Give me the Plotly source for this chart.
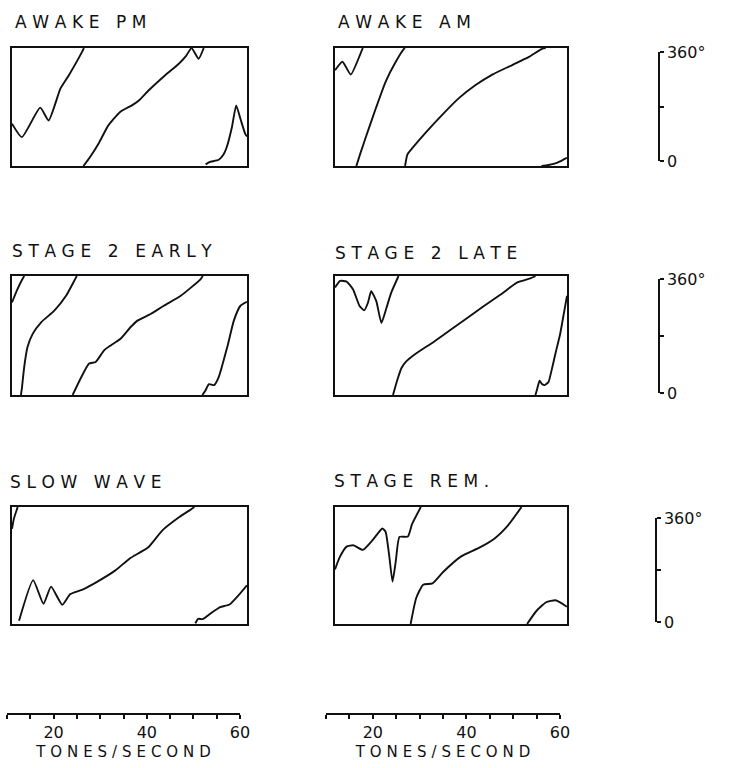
import plotly.graph_objects as go

# ---------------------------------------------------------------------------
# Phase (degrees, wrapped into 0-360) against click rate (tones/second).
# Each list holds the wrapped branches of one curve; None breaks the line
# where the phase wraps from 360 back to 0.
# ---------------------------------------------------------------------------
AWAKE_PM_TONES = [10, 12.1, 16.0, 17.8, 20.3, 22.1, 24.9, 25.3, None,
                  25.2, 26.5, 28.4, 30.5, 33.0, 35.5, 37.0, 39.1, 42.6, 45.5, 47.0, 48.2, 49.7, 50.8, None,
                  51.2, 52.0, 54.0, 55.0, 55.7, 56.8, 57.7, 58.6, 59.6, 60]
AWAKE_PM_PHASE = [129, 88, 178, 139, 236, 277, 348, 360, None,
                  0, 25, 68, 124, 165, 185, 200, 231, 277, 312, 335, 360, 327, 360, None,
                  5, 12, 19, 35, 58, 119, 185, 144, 99, 90]

AWAKE_AM_TONES = [10, 11.6, 13.4, 15.5, 16.0, None,
                  14.6, 15.5, 16.6, 18.8, 20.9, 23.1, 24.9, 25.1, None,
                  25.1, 25.6, 26.7, 29.5, 33.1, 36.7, 40.3, 43.9, 48.2, 51.8, 54.7, 55.4, None,
                  54.5, 56.0, 57.5, 58.5, 59.3, 60]
AWAKE_AM_PHASE = [292, 318, 279, 343, 360, None,
                  0, 40, 86, 176, 257, 318, 358, 360, None,
                  0, 35, 55, 101, 156, 207, 247, 279, 308, 333, 358, 360, None,
                  0, 3, 8, 14, 20, 25]

STAGE2_EARLY_TONES = [10, 11.0, 12.0, 12.6, None,
                      11.9, 12.1, 12.6, 13.3, 14.4, 16.2, 19.0, 21.5, 23.6, 23.8, None,
                      22.9, 24.6, 26.4, 27.8, 29.6, 31.0, 33.1, 35.2, 36.7, 39.5, 42.3, 45.9, 50.1, 50.6, None,
                      50.5, 51.1, 51.9, 53.0, 54.0, 55.8, 57.2, 58.6, 60]
STAGE2_EARLY_PHASE = [280, 315, 345, 360, None,
                      0, 20, 85, 145, 185, 220, 255, 300, 355, 360, None,
                      0, 50, 95, 100, 135, 150, 170, 205, 225, 245, 270, 300, 350, 360, None,
                      0, 12, 33, 30, 55, 145, 225, 270, 282]

STAGE2_LATE_TONES = [10, 11.1, 12.5, 13.9, 15.3, 16.3, 17.1, 17.8, 18.9, 20.0, 21.1, 22.1, 23.6, 23.7, None,
                     22.5, 23.0, 23.6, 24.3, 25.3, 27.1, 31.4, 35.0, 38.5, 42.1, 45.7, 49.2, 52.1, 52.8, 53.2, None,
                     53.2, 53.6, 54.1, 54.6, 55.2, 56.0, 56.6, 57.5, 58.5, 59.3, 60]
STAGE2_LATE_PHASE = [325, 345, 343, 319, 269, 256, 279, 314, 284, 218, 264, 309, 357, 360, None,
                     0, 25, 53, 81, 101, 122, 162, 198, 233, 269, 304, 340, 353, 357, 360, None,
                     0, 20, 43, 33, 30, 39, 70, 125, 183, 245, 300]

SLOW_WAVE_TONES = [10, 10.4, 11.1, 11.2, None,
                   11.5, 14.5, 16.7, 18.3, 20.7, 22.4, 25.0, 28.0, 32.0, 35.0, 39.0, 42.0, 45.6, 48.0, 48.8, None,
                   49.0, 49.6, 50.6, 52.5, 54.3, 56.3, 58.0, 60]
SLOW_WAVE_PHASE = [293, 324, 355, 360, None,
                   10, 135, 62, 115, 59, 92, 106, 129, 165, 201, 236, 288, 329, 352, 360, None,
                   2, 16, 15, 35, 52, 60, 85, 119]

STAGE_REM_TONES = [10, 11.0, 12.5, 14.0, 16.0, 18.1, 20.2, 20.9, 21.7, 22.4, 23.1, 23.9, 25.7, 26.6, 28.5, None,
                   26.3, 27.5, 29.0, 31.0, 33.3, 37.2, 41.0, 44.2, 47.2, 50.2, None,
                   51.4, 53.4, 55.5, 57.5, 58.6, 60]
STAGE_REM_PHASE = [168, 205, 238, 242, 228, 258, 294, 284, 208, 130, 193, 268, 269, 307, 360, None,
                   0, 80, 121, 125, 160, 208, 234, 261, 302, 360, None,
                   0, 40, 67, 73, 66, 53]

PANEL_TITLES = ["AWAKE PM", "AWAKE AM", "STAGE 2 EARLY", "STAGE 2 LATE", "SLOW WAVE", "STAGE REM."]
PANEL_TONES = [AWAKE_PM_TONES, AWAKE_AM_TONES, STAGE2_EARLY_TONES,
               STAGE2_LATE_TONES, SLOW_WAVE_TONES, STAGE_REM_TONES]
PANEL_PHASE = [AWAKE_PM_PHASE, AWAKE_AM_PHASE, STAGE2_EARLY_PHASE,
               STAGE2_LATE_PHASE, SLOW_WAVE_PHASE, STAGE_REM_PHASE]

TONE_RANGE = [10, 60]
TONE_TICKS = [10, 15, 20, 25, 30, 35, 40, 45, 50, 55, 60]
TONE_TICK_LABELS = ["", "", "20", "", "", "", "40", "", "", "", "60"]
TONE_AXIS_TITLE = "TONES/SECOND"
PHASE_RANGE = [0, 360]
PHASE_TICKS = [0, 180, 360]
PHASE_TICK_LABELS = ["0", "", "360°"]

# ---------------------------------------------------------------------------
# Page geometry (pixels)
# ---------------------------------------------------------------------------
W, H = 729, 768
COL_X = [(12, 247), (335, 567)]
ROW_Y = [(48, 166), (276, 395), (507, 624)]
TITLE_POS = [(13, 22), (336, 22), (10, 251), (333, 253), (8, 482), (332, 481)]
SCALE_X = [658, 658, 655]
SCALE_Y = [(52, 161), (279, 393), (518, 622)]
BOTTOM_X = [(7, 240), (326, 560)]
BOTTOM_LINE_Y = 713

INK = "#111111"
FONT = "DejaVu Sans"
GAP = "\u2004"  # wide lettering: a three-per-em space between characters


def lettered(s):
    return GAP.join(s)


def dom_x(a, b):
    return [a / W, b / W]


def dom_y(top, bottom):
    return [1 - bottom / H, 1 - top / H]


def axis_key(kind, n):
    return kind + ("" if n == 1 else str(n))


fig = go.Figure()
layout = {}

box_style = dict(showline=True, mirror=True, linecolor=INK, linewidth=2,
                 showticklabels=False, ticks="", showgrid=False, zeroline=False,
                 fixedrange=True, automargin=False)

# six phase panels
for i in range(6):
    n = i + 1
    row, col = divmod(i, 2)
    layout[axis_key("xaxis", n)] = dict(domain=dom_x(*COL_X[col]), range=TONE_RANGE,
                                        anchor=axis_key("y", n), **box_style)
    layout[axis_key("yaxis", n)] = dict(domain=dom_y(*ROW_Y[row]), range=PHASE_RANGE,
                                        anchor=axis_key("x", n), **box_style)
    fig.add_trace(go.Scatter(
        x=PANEL_TONES[i], y=PANEL_PHASE[i], mode="lines", connectgaps=False,
        line=dict(color=INK, width=1.9, shape="spline", smoothing=0.5),
        xaxis=axis_key("x", n), yaxis=axis_key("y", n),
        showlegend=False, hoverinfo="skip"))

# phase scale bars, one per row
for r in range(3):
    n = 7 + r
    layout[f"xaxis{n}"] = dict(domain=dom_x(SCALE_X[r] - 6, SCALE_X[r]), range=[0, 1],
                               visible=False, anchor=f"y{n}", fixedrange=True)
    layout[f"yaxis{n}"] = dict(domain=dom_y(*SCALE_Y[r]), range=PHASE_RANGE, anchor=f"x{n}",
                               side="right", showline=True, linecolor=INK, linewidth=1.5,
                               ticks="outside", ticklen=4, tickwidth=1.5, tickcolor=INK,
                               tickvals=PHASE_TICKS, ticktext=PHASE_TICK_LABELS,
                               tickfont=dict(family=FONT, size=16, color=INK),
                               showgrid=False, zeroline=False, fixedrange=True, automargin=False)
    fig.add_trace(go.Scatter(x=[None], y=[None], xaxis=f"x{n}", yaxis=f"y{n}",
                             showlegend=False, hoverinfo="skip"))

# shared tones/second axes under each column
for c in range(2):
    n = 10 + c
    layout[f"yaxis{n}"] = dict(domain=dom_y(BOTTOM_LINE_Y - 12, BOTTOM_LINE_Y), range=[0, 1],
                               visible=False, anchor=f"x{n}", fixedrange=True)
    layout[f"xaxis{n}"] = dict(domain=dom_x(*BOTTOM_X[c]), range=TONE_RANGE, anchor=f"y{n}",
                               side="bottom", showline=True, linecolor=INK, linewidth=2,
                               ticks="outside", ticklen=4, tickwidth=1.5, tickcolor=INK,
                               tickvals=TONE_TICKS, ticktext=TONE_TICK_LABELS,
                               tickfont=dict(family=FONT, size=16, color=INK),
                               title=dict(text=lettered(TONE_AXIS_TITLE), standoff=5,
                                          font=dict(family=FONT, size=15, color=INK)),
                               showgrid=False, zeroline=False, fixedrange=True, automargin=False)
    fig.add_trace(go.Scatter(x=[None], y=[None], xaxis=f"x{n}", yaxis=f"y{n}",
                             showlegend=False, hoverinfo="skip"))

annotations = []
for title, (tx, ty) in zip(PANEL_TITLES, TITLE_POS):
    annotations.append(dict(text=lettered(title), x=tx / W, y=1 - ty / H,
                            xref="paper", yref="paper", xanchor="left", yanchor="middle",
                            showarrow=False, font=dict(family=FONT, size=17, color=INK)))

fig.update_layout(
    width=W, height=H, margin=dict(l=0, r=0, t=0, b=0),
    paper_bgcolor="white", plot_bgcolor="white",
    font=dict(family=FONT, color=INK),
    showlegend=False, annotations=annotations, **layout)

fig.write_html("out.html", config={"displayModeBar": False})
